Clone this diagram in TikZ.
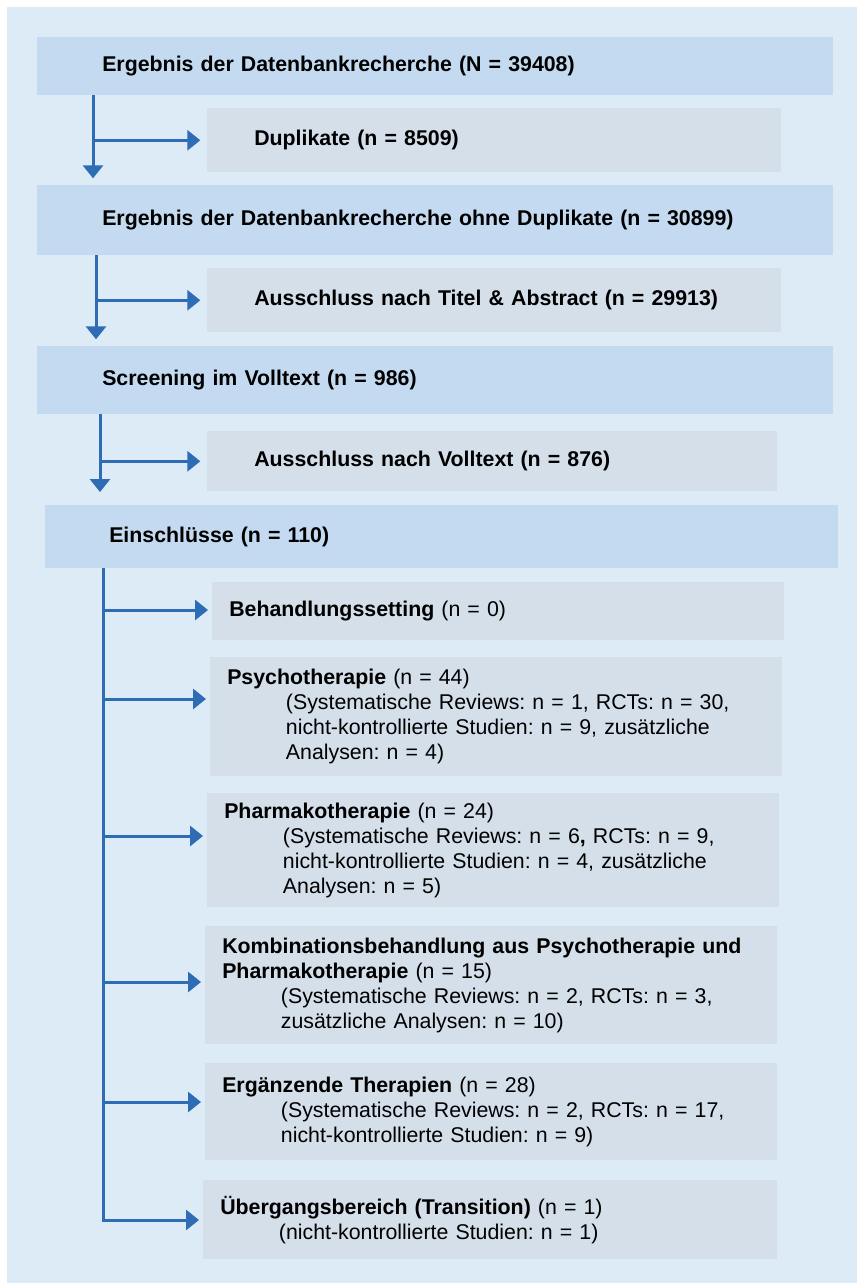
\documentclass[tikz,border=0pt]{standalone}
\usepackage{fontspec}
\setmainfont{Liberation Sans}
\usepackage{xcolor}
\usepackage{tikz}
\usetikzlibrary{arrows.meta,positioning,calc}
\definecolor{PageBlue}{HTML}{DDEBF7}
\definecolor{StepBlue}{HTML}{C4DAF1}
\definecolor{SideGray}{HTML}{D4DFEA}
\definecolor{ArrowBlue}{HTML}{2E6DB5}
\newcommand{\ind}{\hspace*{44pt}}
\newcommand{\boxfont}{\fontsize{16pt}{18.75pt}\selectfont}
\frenchspacing

\begin{document}
\begin{tikzpicture}[
    x=0.75pt, y=-0.75pt,
    font=\boxfont,
    mainbox/.style={fill=StepBlue, anchor=north west, align=left, font=\boxfont\bfseries, inner xsep=48.75pt, text width=499.5pt},
    exclbox/.style={fill=SideGray, anchor=north west, align=left, font=\boxfont\bfseries, inner xsep=35.25pt, text width=360pt},
    subbox/.style={fill=SideGray, anchor=north west, align=left, font=\boxfont, inner xsep=12.75pt, text width=403.5pt},
    trunk/.style={line width=2.25pt, draw=ArrowBlue},
    arr/.style={trunk, -{Triangle[length=9.75pt, width=15pt]}, shorten >=5pt}
]
\useasboundingbox (0,0) rectangle (857,1283);
\fill[PageBlue] (7,7) rectangle (857,1283);

\node[mainbox, minimum height=43.5pt] (m1) at (37,37) {Ergebnis der Datenbankrecherche (N = 39408)};
\node[exclbox, minimum height=48pt] (x1) at (207,108) {Duplikate (n = 8509)};
\node[mainbox, minimum height=52.5pt] (m2) at (37,185) {Ergebnis der Datenbankrecherche ohne Duplikate (n = 30899)};
\node[exclbox, minimum height=48pt] (x2) at (207,268) {Ausschluss nach Titel \& Abstract (n = 29913)};
\node[mainbox, minimum height=51pt] (m3) at (37,346) {Screening im Volltext (n = 986)};
\node[exclbox, minimum height=45pt, text width=357pt] (x3) at (207,431) {Ausschluss nach Volltext (n = 876)};
\node[mainbox, minimum height=47.25pt, inner xsep=48pt, text width=498.75pt] (m4) at (45,505) {Einschlüsse (n = 110)};

\node[subbox, minimum height=43.5pt] (s1) at (212,582) {\textbf{Behandlungssetting} (n = 0)};
\node[subbox, minimum height=89.25pt] (s2) at (210,657) {\textbf{Psychotherapie} (n = 44)\\
  \ind(Systematische Reviews: n = 1, RCTs: n = 30,\\
  \ind nicht-kontrollierte Studien: n = 9, zusätzliche\\
  \ind Analysen: n = 4)};
\node[subbox, minimum height=85.5pt] (s3) at (207,793) {\textbf{Pharmakotherapie} (n = 24)\\
  \ind(Systematische Reviews: n = 6\textbf{,} RCTs: n = 9,\\
  \ind nicht-kontrollierte Studien: n = 4, zusätzliche\\
  \ind Analysen: n = 5)};
\node[subbox, minimum height=88.5pt] (s4) at (205,926) {\textbf{Kombinationsbehandlung aus Psychotherapie und}\\
  \textbf{Pharmakotherapie} (n = 15)\\
  \ind(Systematische Reviews: n = 2, RCTs: n = 3,\\
  \ind zusätzliche Analysen: n = 10)};
\node[subbox, minimum height=72.75pt] (s5) at (205,1063) {\textbf{Ergänzende Therapien} (n = 28)\\
  \ind(Systematische Reviews: n = 2, RCTs: n = 17,\\
  \ind nicht-kontrollierte Studien: n = 9)};
\node[subbox, minimum height=59.25pt, text width=405pt] (s6) at (203,1180) {\textbf{Übergangsbereich (Transition)} (n = 1)\\
  \ind(nicht-kontrollierte Studien: n = 1)};

\coordinate (t1) at (93,95);
\coordinate (t2) at (96,255);
\coordinate (t3) at (100,414);
\coordinate (t4) at (103,568);

\draw[arr] (t1) -- (t1 |- m2.north);
\draw[arr] (t2) -- (t2 |- m3.north);
\draw[arr, shorten >=9.75pt] (t3) -- (t3 |- m4.north);
\foreach \t/\x in {t1/x1,t2/x2,t3/x3}{\draw[arr] (\t |- \x.west) -- (\x.west);}

\foreach \i/\y in {1/610,2/699,3/836,4/982,5/1102,6/1220}{\coordinate (j\i) at (103,\y);}
\draw[trunk] (t4) -- ([yshift=-1.125pt]j6);
\foreach \i in {1,...,6}{\draw[arr, shorten >=3pt] (j\i) -- (j\i -| s\i.west);}
\end{tikzpicture}
\end{document}
